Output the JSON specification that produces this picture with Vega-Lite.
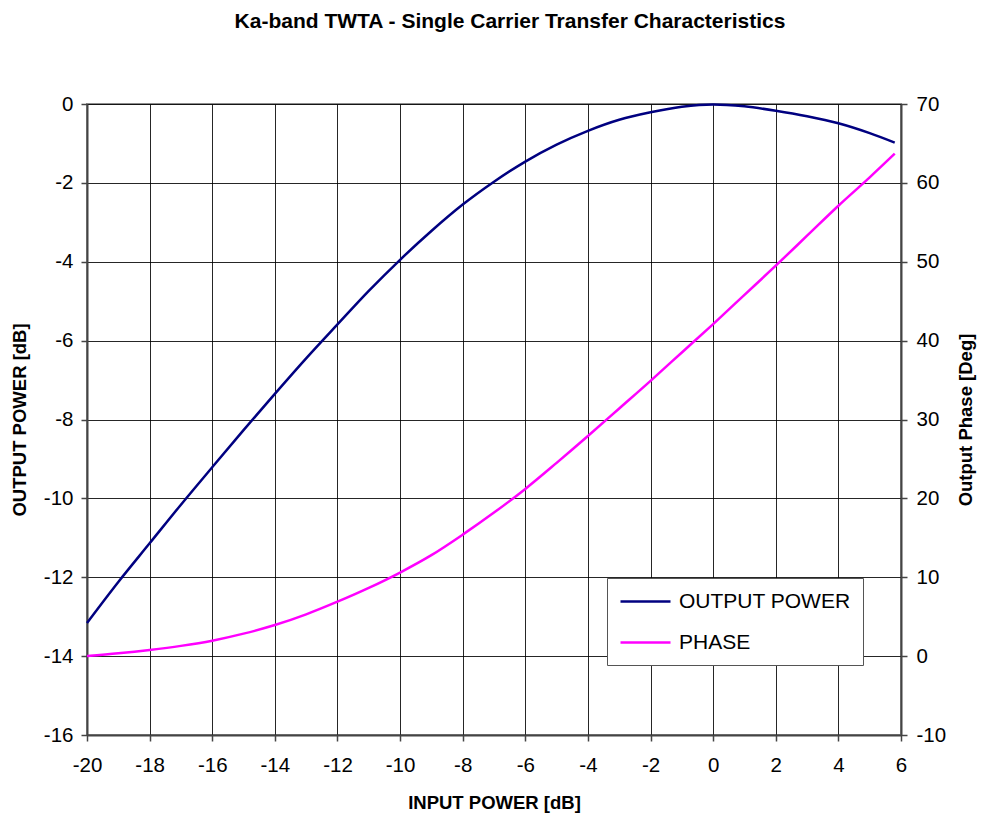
{
  "$schema": "https://vega.github.io/schema/vega-lite/v6.json",
  "autosize": {"type": "none"},
  "width": 814,
  "height": 631,
  "padding": {"left": 87, "top": 104, "right": 80, "bottom": 83},
  "background": "white",
  "config": {
    "font": "Liberation Sans",
    "view": {"stroke": "#8c8c8c", "strokeWidth": 2},
    "axis": {
      "labelFont": "Liberation Sans",
      "labelFontSize": 20.5,
      "labelColor": "#000",
      "labelExpr": "replace(datum.label, '\u2212', '-')",
      "titleFont": "Liberation Sans",
      "titleFontSize": 18.5,
      "titleFontWeight": "bold",
      "titleColor": "#000",
      "domainColor": "#444",
      "domainWidth": 2,
      "tickColor": "#444",
      "tickWidth": 1.5,
      "tickSize": 6,
      "gridColor": "#000",
      "gridWidth": 1,
      "gridOpacity": 0.85
    }
  },
  "title": {
    "text": "Ka-band TWTA - Single Carrier Transfer Characteristics",
    "font": "Liberation Sans",
    "fontSize": 21,
    "fontWeight": "bold",
    "color": "#000",
    "anchor": "middle",
    "dx": 16,
    "offset": 62
  },
  "data": {
    "values": [
      {"input": -20, "power": -13.16, "phase": 0.0},
      {"input": -19, "power": -12.12, "phase": 0.35},
      {"input": -18, "power": -11.14, "phase": 0.78},
      {"input": -17, "power": -10.16, "phase": 1.3},
      {"input": -16, "power": -9.21, "phase": 1.96},
      {"input": -15, "power": -8.27, "phase": 2.85},
      {"input": -14, "power": -7.35, "phase": 3.94},
      {"input": -13, "power": -6.45, "phase": 5.3},
      {"input": -12, "power": -5.59, "phase": 6.9},
      {"input": -11, "power": -4.74, "phase": 8.65},
      {"input": -10, "power": -3.95, "phase": 10.6},
      {"input": -9, "power": -3.22, "phase": 12.8},
      {"input": -8, "power": -2.55, "phase": 15.4},
      {"input": -7, "power": -1.97, "phase": 18.2},
      {"input": -6, "power": -1.46, "phase": 21.2},
      {"input": -5, "power": -1.03, "phase": 24.5},
      {"input": -4, "power": -0.68, "phase": 27.9},
      {"input": -3, "power": -0.4, "phase": 31.4},
      {"input": -2, "power": -0.21, "phase": 34.9},
      {"input": -1, "power": -0.07, "phase": 38.5},
      {"input": 0, "power": -0.01, "phase": 42.1},
      {"input": 1, "power": -0.06, "phase": 45.8},
      {"input": 2, "power": -0.17, "phase": 49.5},
      {"input": 3, "power": -0.31, "phase": 53.3},
      {"input": 4, "power": -0.49, "phase": 57.1},
      {"input": 5, "power": -0.74, "phase": 60.7},
      {"input": 5.8, "power": -0.98, "phase": 63.7}
    ]
  },
  "encoding": {
    "x": {
      "field": "input",
      "type": "quantitative",
      "title": "INPUT POWER [dB]",
      "scale": {"domain": [-20, 6], "nice": false, "zero": false},
      "axis": {
        "values": [-20, -18, -16, -14, -12, -10, -8, -6, -4, -2, 0, 2, 4, 6],
        "labelPadding": 14,
        "titlePadding": 18,
        "labelFlush": false
      }
    }
  },
  "layer": [
    {
      "mark": {"type": "line", "strokeWidth": 2.5, "clip": false, "interpolate": "monotone"},
      "encoding": {
        "y": {
          "field": "power",
          "type": "quantitative",
          "title": "OUTPUT POWER [dB]",
          "scale": {"domain": [-16, 0], "nice": false, "zero": false},
          "axis": {
            "values": [-16, -14, -12, -10, -8, -6, -4, -2, 0],
            "labelPadding": 8,
            "titlePadding": 14
          }
        },
        "color": {
          "datum": "OUTPUT POWER",
          "type": "nominal",
          "scale": {"domain": ["OUTPUT POWER", "PHASE"], "range": ["#000080", "#ff00ff"]},
          "legend": {
            "title": null,
            "orient": "none",
            "legendX": 520,
            "legendY": 474,
            "direction": "vertical",
            "padding": 12,
            "rowPadding": 19,
            "strokeColor": "#555",
            "fillColor": "white",
            "symbolType": "M-1,0H4",
            "symbolSize": 400,
            "symbolStrokeWidth": 2.5,
            "labelOffset": 37,
            "labelLimit": 400,
            "labelFont": "Liberation Sans",
            "labelFontSize": 21,
            "labelColor": "#000"
          }
        }
      }
    },
    {
      "mark": {"type": "line", "strokeWidth": 2.5, "clip": false, "interpolate": "monotone"},
      "encoding": {
        "y": {
          "field": "phase",
          "type": "quantitative",
          "title": "Output Phase [Deg]",
          "scale": {"domain": [-10, 70], "nice": false, "zero": false},
          "axis": {
            "orient": "right",
            "values": [-10, 0, 10, 20, 30, 40, 50, 60, 70],
            "grid": false,
            "labelPadding": 9,
            "titleAngle": 270,
            "titleBaseline": "top",
            "titlePadding": 11
          }
        },
        "color": {"datum": "PHASE", "type": "nominal"}
      }
    }
  ],
  "resolve": {"scale": {"y": "independent"}}
}
